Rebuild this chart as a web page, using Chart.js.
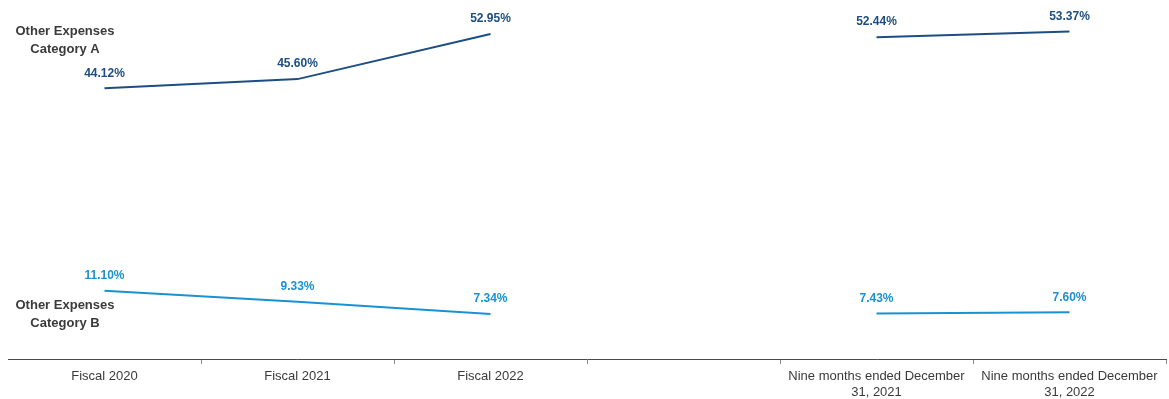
<!DOCTYPE html>
<html>
<head>
  <title>Other Expenses</title>
  <script src="https://cdn.jsdelivr.net/npm/chart.js"></script>
  <style>
    html, body { margin: 0; padding: 0; background: #fff; }
    #wrap { width: 1169px; height: 399px; }
  </style>
</head>
<body>
<div id="wrap"><canvas id="expChart" width="1169" height="399"></canvas></div>
<script>
  const periods = [
    'Fiscal 2020',
    'Fiscal 2021',
    'Fiscal 2022',
    '',
    ['Nine months ended December', '31, 2021'],
    ['Nine months ended December', '31, 2022']
  ];
  const categoryA = [44.12, 45.60, 52.95, null, 52.44, 53.37];
  const categoryB = [11.10, 9.33, 7.34, null, 7.43, 7.60];
  const seriesNames = [['Other Expenses', 'Category A'], ['Other Expenses', 'Category B']];

  const darkBlue = '#1C4E84';
  const lightBlue = '#1A92D2';
  const axisGrey = '#4a4a4a';

  // value labels above each point + series names on the left
  const labelPlugin = {
    id: 'labels',
    afterDatasetsDraw(chart) {
      const ctx = chart.ctx;
      ctx.save();
      ctx.font = 'bold 12px "Liberation Sans", Arial, sans-serif';
      ctx.textAlign = 'center';
      ctx.textBaseline = 'middle';
      chart.data.datasets.forEach((ds, i) => {
        const meta = chart.getDatasetMeta(i);
        ctx.fillStyle = ds.borderColor;
        meta.data.forEach((pt, j) => {
          if (ds.data[j] == null) return;
          ctx.fillText(ds.data[j].toFixed(2) + '%', pt.x, pt.y - 15);
        });
      });
      ctx.fillStyle = '#3a3a3a';
      ctx.font = 'bold 13px "Liberation Sans", Arial, sans-serif';
      ctx.fillText(seriesNames[0][0], 65, 31);
      ctx.fillText(seriesNames[0][1], 65, 49);
      ctx.fillText(seriesNames[1][0], 65, 305);
      ctx.fillText(seriesNames[1][1], 65, 323);
      ctx.restore();
    }
  };

  new Chart(document.getElementById('expChart'), {
    type: 'line',
    data: {
      labels: periods,
      datasets: [
        { label: 'Other Expenses Category A', data: categoryA, borderColor: darkBlue, borderWidth: 2, pointRadius: 0, tension: 0, spanGaps: false },
        { label: 'Other Expenses Category B', data: categoryB, borderColor: lightBlue, borderWidth: 2, pointRadius: 0, tension: 0, spanGaps: false }
      ]
    },
    options: {
      responsive: false,
      animation: false,
      layout: { padding: { left: 8, right: 3, top: 3, bottom: 0 } },
      plugins: { legend: { display: false }, tooltip: { enabled: false } },
      scales: {
        x: {
          offset: true,
          afterFit(scale) { scale.height = 40; },
          grid: {
            offset: true,
            drawOnChartArea: false,
            tickLength: 5,
            color: (c) => c.index === 0 ? 'rgba(0,0,0,0)' : '#8a8a8a'
          },
          border: { color: axisGrey, width: 1 },
          ticks: {
            color: '#3a3a3a',
            padding: 5,
            maxRotation: 0,
            autoSkip: false,
            font: { family: '"Liberation Sans", Arial, sans-serif', size: 13 }
          }
        },
        y: {
          display: false,
          min: 0,
          max: 58
        }
      }
    },
    plugins: [labelPlugin]
  });
</script>
</body>
</html>
